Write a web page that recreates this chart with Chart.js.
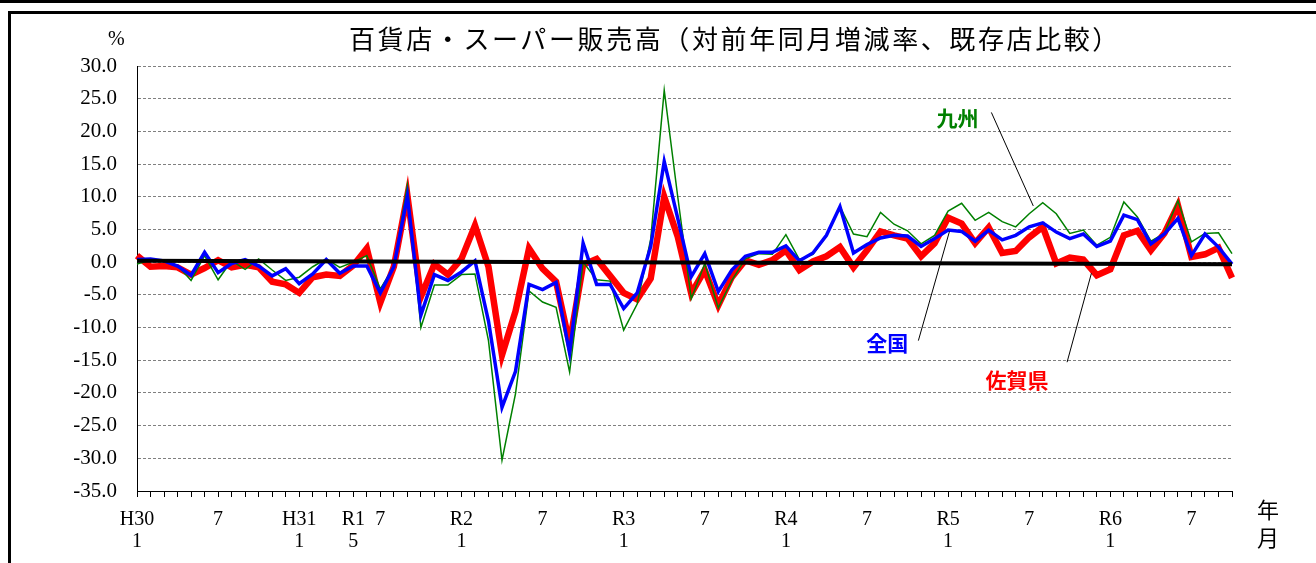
<!DOCTYPE html>
<html lang="ja">
<head>
<meta charset="utf-8">
<script src="https://cdn.jsdelivr.net/npm/chart.js@4.4.1/dist/chart.umd.min.js"></script>
<style>
  html, body { margin: 0; padding: 0; background: #fff; width: 1316px; height: 563px; overflow: hidden; }
  #topbar { position: absolute; left: 0; top: 0; width: 1316px; height: 3px; background: #000; }
  #frame { position: absolute; left: 8px; top: 11px; width: 1400px; height: 600px; border-left: 3px solid #000; border-top: 3px solid #000; }
  #title { position: absolute; left: 349px; top: 23px; font: 26px "Noto Sans CJK JP"; letter-spacing: 2.6px; line-height: 30px; white-space: nowrap; color: #000; }
  .unit { position: absolute; font: 20px "Liberation Serif", serif; line-height: 20px; color: #000; }
  .axisnote { position: absolute; font: 22px "Noto Sans CJK JP"; line-height: 22px; color: #000; }
  canvas { position: absolute; left: 0; top: 0; }
</style>
</head>
<body>
<div id="topbar"></div>
<div id="frame"></div>
<canvas id="chart" width="1316" height="563"></canvas>
<div id="title">百貨店・スーパー販売高（対前年同月増減率、既存店比較）</div>
<div class="unit" style="left:108px; top:28px;">%</div>
<div class="axisnote" style="left:1257px; top:497px;">年</div>
<div class="axisnote" style="left:1257px; top:525px;">月</div>
<script>
// months H30.1 (Jan 2018) .. R6.10 (Oct 2024), one row per year
var monthLabels = [
  ["H30", "1"], "", "", "", "", "", "7", "", "", "", "", "",
  ["H31", "1"], "", "", "", ["R1", "5"], "", "7", "", "", "", "", "",
  ["R2", "1"], "", "", "", "", "", "7", "", "", "", "", "",
  ["R3", "1"], "", "", "", "", "", "7", "", "", "", "", "",
  ["R4", "1"], "", "", "", "", "", "7", "", "", "", "", "",
  ["R5", "1"], "", "", "", "", "", "7", "", "", "", "", "",
  ["R6", "1"], "", "", "", "", "", "7", "", "", ""
];

// 佐賀県
var sagaValues = [
  1.0, -0.7, -0.6, -0.8, -1.9, -0.9, 0.3, -0.8, -0.4, -0.8, -3.0, -3.4,
  -4.7, -2.3, -1.9, -2.1, -0.5, 2.1, -6.2, -0.7, 10.2, -5.3, -0.3, -1.9,
  0.5, 5.6, -0.7, -14.2, -7.5, 2.1, -1.0, -3.0, -12.5, -0.4, 0.5, -2.1,
  -4.7, -5.7, -2.5, 10.0, 3.9, -4.8, -1.2, -6.6, -2.3, 0.3, -0.4, 0.3,
  1.8, -1.2, 0.1, 0.9, 2.3, -0.8, 1.8, 4.7, 4.1, 3.6, 0.9, 2.9,
  6.8, 5.9, 2.9, 5.3, 1.4, 1.7, 3.8, 5.4, -0.2, 0.7, 0.4, -2.0,
  -1.1, 4.1, 4.8, 1.8, 4.4, 8.7, 0.8, 1.2, 2.2, -2.4
];

// 全国
var zenkokuValues = [
  0.4, 0.5, 0.2, -0.6, -2.0, 1.5, -1.6, -0.2, 0.4, -0.6, -2.1, -1.0,
  -3.3, -1.8, 0.4, -1.7, -0.6, -0.6, -4.7, -0.7, 10.1, -8.1, -1.9, -2.8,
  -1.5, 0.2, -9.0, -22.2, -16.7, -3.4, -4.2, -3.1, -13.9, 2.9, -3.4, -3.4,
  -7.1, -4.7, 2.4, 15.4, 6.7, -2.2, 1.3, -4.5, -1.2, 0.9, 1.5, 1.5,
  2.5, 0.2, 1.4, 4.1, 8.5, 1.4, 2.7, 3.7, 4.1, 4.0, 2.4, 3.6,
  4.9, 4.7, 3.2, 4.9, 3.4, 4.1, 5.4, 6.0, 4.6, 3.6, 4.3, 2.4,
  3.2, 7.2, 6.5, 2.8, 4.3, 6.7, 1.0, 4.3, 2.3, -0.3
];

// 九州
var kyushuValues = [
  -0.3, 0.3, 0.1, -0.5, -2.8, 1.0, -2.7, 0.2, -1.1, 0.5, -1.2, -2.8,
  -2.3, -0.7, 0.5, -0.8, 0.0, 1.0, -4.1, -0.7, 11.8, -10.0, -3.5, -3.5,
  -1.9, -1.8, -12.0, -30.3, -20.1, -4.4, -6.1, -6.9, -16.8, 0.0, -2.7, -2.9,
  -10.4, -6.4, 3.5, 26.3, 10.0, -5.6, -0.2, -7.0, -2.8, 0.5, 1.3, 1.2,
  4.2, 0.4, 1.2, 4.0, 8.5, 4.3, 3.9, 7.6, 5.8, 4.8, 2.8, 4.1,
  7.8, 9.0, 6.4, 7.6, 6.2, 5.4, 7.4, 9.1, 7.4, 4.4, 4.9, 2.6,
  3.8, 9.2, 6.9, 3.2, 4.4, 9.4, 3.1, 4.4, 4.5, 1.3
];

// black trend line, value at first and last month
var trendEnds = [0.2, -0.33];

var yTicks = { min: -35, max: 30, step: 5 };

var SERIF = '"Liberation Serif", serif';
var JP_SANS = '"Noto Sans CJK JP", sans-serif';

var lastIndex = monthLabels.length - 1;
var trendValues = monthLabels.map(function (_, i) {
  if (i === 0) return trendEnds[0];
  if (i === lastIndex) return trendEnds[1];
  return null;
});

// labels with leader lines, in (month index, value) units
var callouts = [
  { text: "九州", color: "#008000", at: [60.7, 22.0], from: [63.2, 22.9], to: [66.3, 8.6] },
  { text: "全国", color: "#0000ff", at: [55.5, -12.4], from: [57.8, -12.0], to: [60.1, 4.7] },
  { text: "佐賀県", color: "#ff0000", at: [65.1, -18.0], from: [68.8, -15.3], to: [70.6, -1.7] }
];

var calloutPlugin = {
  id: "callouts",
  afterDatasetsDraw: function (chart) {
    var ctx = chart.ctx;
    var xs = chart.scales.x;
    var ys = chart.scales.y;
    ctx.save();
    callouts.forEach(function (c) {
      ctx.strokeStyle = "#000";
      ctx.lineWidth = 1;
      ctx.beginPath();
      ctx.moveTo(xs.getPixelForValue(c.from[0]), ys.getPixelForValue(c.from[1]));
      ctx.lineTo(xs.getPixelForValue(c.to[0]), ys.getPixelForValue(c.to[1]));
      ctx.stroke();
      ctx.fillStyle = c.color;
      ctx.font = "bold 21px " + JP_SANS;
      ctx.textAlign = "center";
      ctx.textBaseline = "middle";
      ctx.fillText(c.text, xs.getPixelForValue(c.at[0]), ys.getPixelForValue(c.at[1]));
    });
    ctx.restore();
  }
};

function lineSet(label, data, color, width, order) {
  return {
    label: label,
    data: data,
    borderColor: color,
    backgroundColor: color,
    borderWidth: width,
    pointRadius: 0,
    tension: 0,
    fill: false,
    order: order,
    clip: false
  };
}

var trendSet = lineSet("trend", trendValues, "#000", 4, 0);
trendSet.spanGaps = true;

new Chart(document.getElementById("chart"), {
  type: "line",
  data: {
    labels: monthLabels,
    datasets: [
      trendSet,
      lineSet("全国", zenkokuValues, "#0000ff", 3.5, 1),
      lineSet("九州", kyushuValues, "#008000", 1.5, 2),
      lineSet("佐賀県", sagaValues, "#ff0000", 6.5, 3)
    ]
  },
  options: {
    responsive: false,
    animation: false,
    layout: { padding: { top: 66, right: 84, bottom: 0, left: 0 } },
    plugins: { legend: { display: false }, tooltip: { enabled: false }, title: { display: false } },
    scales: {
      x: {
        type: "category",
        offset: false,
        grid: { drawOnChartArea: false, drawTicks: true, tickLength: 6, color: "#000", lineWidth: 1 },
        border: { display: true, color: "#000", width: 1 },
        ticks: {
          autoSkip: false,
          maxRotation: 0,
          minRotation: 0,
          padding: 12,
          color: "#000",
          font: { family: SERIF, size: 20, lineHeight: 1.1 }
        },
        afterFit: function (s) { s.height = 72; }
      },
      y: {
        min: yTicks.min,
        max: yTicks.max,
        grid: { color: "#808080", lineWidth: 1, drawTicks: false },
        border: { display: true, color: "#000", width: 1, dash: [3, 2] },
        ticks: {
          stepSize: yTicks.step,
          padding: 20,
          color: "#000",
          font: { family: SERIF, size: 21 },
          callback: function (v) { return v.toFixed(1); }
        },
        afterFit: function (s) { s.width = 137; }
      }
    }
  },
  plugins: [calloutPlugin]
});
</script>
</body>
</html>
